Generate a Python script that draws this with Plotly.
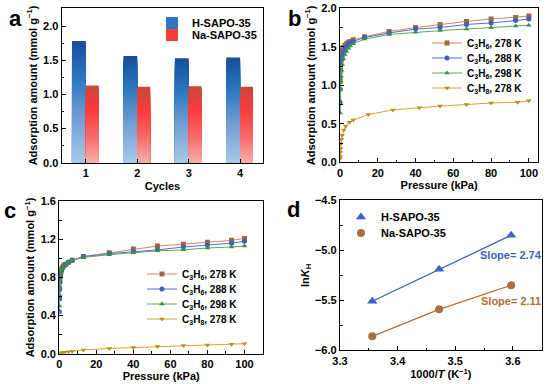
import plotly.graph_objects as go

# ---------------- data ----------------
cycles = [1, 2, 3, 4]
h_sapo_cycles = [1.78, 1.56, 1.53, 1.54]
na_sapo_cycles = [1.13, 1.11, 1.12, 1.11]

# panel b (H-SAPO-35 isotherms)
p_b = [0.05, 0.1, 0.2, 0.35, 0.5, 0.8, 1.2, 1.8, 2.6, 3.5, 4.5, 5.5, 7, 13, 26, 40, 53, 67, 80, 93, 100]
b_c3h6_278 = [1.05, 1.18, 1.28, 1.35, 1.39, 1.43, 1.46, 1.49, 1.52, 1.54, 1.56, 1.57, 1.59, 1.63, 1.70, 1.75, 1.79, 1.83, 1.86, 1.88, 1.90]
b_c3h6_288 = [0.77, 0.95, 1.10, 1.20, 1.27, 1.33, 1.38, 1.43, 1.47, 1.50, 1.53, 1.55, 1.57, 1.62, 1.68, 1.73, 1.75, 1.79, 1.81, 1.84, 1.86]
b_c3h6_298 = [0.64, 0.80, 0.95, 1.05, 1.12, 1.20, 1.27, 1.34, 1.40, 1.44, 1.48, 1.51, 1.54, 1.60, 1.66, 1.69, 1.71, 1.73, 1.75, 1.77, 1.78]
p_b_c3h8 = [0.05, 0.1, 0.2, 0.35, 0.5, 0.8, 1.2, 2.0, 3.0, 5.0, 7.0, 15, 28, 42, 53, 67, 80, 94, 100]
b_c3h8_278 = [0.05, 0.08, 0.13, 0.18, 0.24, 0.30, 0.35, 0.42, 0.47, 0.52, 0.55, 0.62, 0.68, 0.71, 0.73, 0.75, 0.77, 0.78, 0.80]

# panel c (Na-SAPO-35 isotherms)
p_c = [0.05, 0.1, 0.2, 0.35, 0.5, 0.8, 1.2, 1.8, 2.6, 3.5, 5, 7, 13, 27, 40, 53, 67, 80, 93, 100]
c_c3h6_278 = [0.58, 0.68, 0.76, 0.81, 0.84, 0.87, 0.89, 0.91, 0.93, 0.94, 0.96, 0.98, 1.02, 1.06, 1.10, 1.13, 1.15, 1.17, 1.19, 1.21]
c_c3h6_288 = [0.44, 0.58, 0.68, 0.75, 0.80, 0.84, 0.87, 0.90, 0.92, 0.94, 0.96, 0.98, 1.02, 1.05, 1.07, 1.09, 1.12, 1.14, 1.16, 1.18]
c_c3h6_298 = [0.50, 0.62, 0.71, 0.77, 0.81, 0.85, 0.88, 0.90, 0.92, 0.94, 0.96, 0.98, 1.01, 1.04, 1.06, 1.08, 1.09, 1.11, 1.12, 1.13]
p_c_c3h8 = [0.1, 0.5, 1.0, 2.0, 3.0, 5.0, 7.0, 13, 27, 40, 53, 67, 80, 93, 100]
c_c3h8_278 = [0.005, 0.008, 0.01, 0.013, 0.016, 0.02, 0.025, 0.04, 0.055, 0.065, 0.075, 0.085, 0.092, 0.10, 0.105]

# panel d (van't Hoff)
inv_t = [3.356, 3.472, 3.597]
lnk_h = [-5.51, -5.19, -4.85]
lnk_na = [-5.86, -5.59, -5.35]
slope_h = "Slope= 2.74"
slope_na = "Slope= 2.11"

FONT = "Liberation Sans, Arial, sans-serif"
BLACK = "#000000"
W, H = 550, 384

def lerp_hex(stops, t):
    for (t0, c0), (t1, c1) in zip(stops[:-1], stops[1:]):
        if t0 <= t <= t1:
            f = (t - t0) / (t1 - t0) if t1 > t0 else 0
            a = [int(c0[i:i + 2], 16) for i in (1, 3, 5)]
            b = [int(c1[i:i + 2], 16) for i in (1, 3, 5)]
            return "#%02x%02x%02x" % tuple(round(a[k] + (b[k] - a[k]) * f) for k in range(3))
    return stops[-1][1]

blue_stops = [(0.0, "#174f9c"), (0.3, "#2b78be"), (0.6, "#6e9bd4"), (1.0, "#a9cbe8")]
red_stops = [(0.0, "#c9463a"), (0.3, "#fb3c3c"), (0.65, "#f86a6a"), (1.0, "#f8b2ae")]

legends = {}

def leg(key, x_text_px, y_px, size=11):
    legends[key] = dict(x=(x_text_px - 40) / W, y=1 - y_px / H, xanchor="left", yanchor="middle",
                        bgcolor="rgba(0,0,0,0)",
                        font=dict(family=FONT, size=size, color=BLACK, weight="bold"),
                        itemwidth=30, borderwidth=0)
    return key

fig = go.Figure()

# ---- panel a: gradient bars built from overlapping bars (tallest first) ----
N = 40
for name, vals, stops, offset, width, lg_idx, lkey, ly in [
    ("H-SAPO-35", h_sapo_cycles, blue_stops, -0.27, 0.27, 12, "legend", 23),
    ("Na-SAPO-35", na_sapo_cycles, red_stops, 0.0, 0.25, 12, "legend2", 35),
]:
    leg(lkey, 192, ly)
    for i in range(N):
        frac = (N - i) / N  # fraction of bar height
        t = 1 - frac  # 0 top colour -> 1 bottom colour
        col = lerp_hex(stops, t)
        fig.add_trace(go.Bar(
            x=cycles, y=[v * frac for v in vals],
            offset=offset, width=width,
            marker=dict(color=col, line=dict(width=0)),
            name=name, legendgroup=name, showlegend=(i == lg_idx),
            legend=lkey, xaxis="x", yaxis="y", hoverinfo="skip",
        ))

# ---- panels b and c ----
series_style = [
    ("C<sub>3</sub>H<sub>6</sub>, 278 K", "#d9826b", "#9a6a45", "square"),
    ("C<sub>3</sub>H<sub>6</sub>, 288 K", "#4f6fd6", "#4060c0", "circle"),
    ("C<sub>3</sub>H<sub>6</sub>, 298 K", "#5aa85a", "#3e8e41", "triangle-up"),
    ("C<sub>3</sub>H<sub>8</sub>, 278 K", "#d4a72c", "#b8901a", "triangle-down"),
]
b_data = [(p_b, b_c3h6_278), (p_b, b_c3h6_288), (p_b, b_c3h6_298), (p_b_c3h8, b_c3h8_278)]
c_data = [(p_c, c_c3h6_278), (p_c, c_c3h6_288), (p_c, c_c3h6_298), (p_c_c3h8, c_c3h8_278)]
b_leg_y = [43, 58, 73, 88]
c_leg_y = [274, 289, 304, 319]

li = 3
for (xs, ys), (name, lc, mc, sym), ly in zip(b_data, series_style, b_leg_y):
    key = leg("legend%d" % li, 467, ly, 10); li += 1
    fig.add_trace(go.Scatter(
        x=xs, y=ys, mode="lines+markers", name=name,
        line=dict(color=lc, width=1),
        marker=dict(symbol=sym, size=5, color=mc),
        xaxis="x2", yaxis="y2", legend=key,
    ))
for (xs, ys), (name, lc, mc, sym), ly in zip(c_data, series_style, c_leg_y):
    key = leg("legend%d" % li, 182, ly, 10); li += 1
    fig.add_trace(go.Scatter(
        x=xs, y=ys, mode="lines+markers", name=name,
        line=dict(color=lc, width=1),
        marker=dict(symbol=sym, size=5, color=mc),
        xaxis="x3", yaxis="y3", legend=key,
    ))

# ---- panel d ----
fig.add_trace(go.Scatter(x=inv_t, y=lnk_h, mode="lines", line=dict(color="#3b63c4", width=1.3),
                         showlegend=False, xaxis="x4", yaxis="y4"))
fig.add_trace(go.Scatter(x=inv_t, y=lnk_na, mode="lines", line=dict(color="#b0703a", width=1.3),
                         showlegend=False, xaxis="x4", yaxis="y4"))
key = leg("legend%d" % li, 381, 217); li += 1
fig.add_trace(go.Scatter(x=inv_t, y=lnk_h, mode="markers", name="H-SAPO-35",
                         marker=dict(symbol="triangle-up", size=9, color="#3b63c4"),
                         xaxis="x4", yaxis="y4", legend=key))
key = leg("legend%d" % li, 381, 233); li += 1
fig.add_trace(go.Scatter(x=inv_t, y=lnk_na, mode="markers", name="Na-SAPO-35",
                         marker=dict(symbol="circle", size=8, color="#a8703f"),
                         xaxis="x4", yaxis="y4", legend=key))

tickfont = dict(family=FONT, size=11, color=BLACK, weight="bold")
titlefont = dict(family=FONT, size=11, color=BLACK, weight="bold")

def ax(domain, rng, dtick, minor_dtick, title, anchor, fmt=None, tickvals=None, standoff=None):
    d = dict(domain=domain, range=rng, anchor=anchor, automargin=False,
             showline=True, linecolor=BLACK, linewidth=1.3, mirror=True,
             ticks="inside", ticklen=4, tickwidth=1.2, tickcolor=BLACK,
             showgrid=False, zeroline=False, tickfont=tickfont,
             title=dict(text=title, font=titlefont))
    if standoff is not None:
        d["title"]["standoff"] = standoff
    if tickvals is not None:
        d["tickmode"] = "array"
        d["tickvals"] = tickvals
    else:
        d["dtick"] = dtick
        d["tick0"] = rng[0] if fmt else 0
    if minor_dtick:
        d["minor"] = dict(dtick=minor_dtick, ticks="inside", ticklen=2.5, tickwidth=1, tickcolor=BLACK)
    if fmt:
        d["tickformat"] = fmt
    return d

ytitle = "Adsorption amount (mmol g<sup>−1</sup>)"
letter_font = dict(family=FONT, size=22, color=BLACK, weight="bold")

fig.update_layout(
    width=W, height=H,
    margin=dict(l=0, r=0, t=0, b=0, autoexpand=False),
    paper_bgcolor="white", plot_bgcolor="white",
    barmode="overlay",
    font=dict(family=FONT, color=BLACK),
    xaxis=ax([0.1122, 0.4787], [0.53, 4.45], None, None, "Cycles", "y", tickvals=cycles, standoff=4),
    yaxis=ax([0.5763, 0.9784], [0, 2.26], 0.5, 0.25, ytitle, "x", fmt=".1f", standoff=3),
    xaxis2=ax([0.6182, 0.9787], [0, 105], 20, 10, "Pressure (kPa)", "y2", standoff=2),
    yaxis2=ax([0.5773, 0.9784], [0, 2.0], 0.5, 0.25, ytitle, "x2", fmt=".1f", standoff=3),
    xaxis3=ax([0.1078, 0.4782], [0, 110], 20, 10, "Pressure (kPa)", "y3", standoff=2),
    yaxis3=ax([0.0789, 0.4758], [0, 1.6], 0.4, 0.2, ytitle, "x3", fmt=".1f", standoff=3),
    xaxis4=ax([0.6182, 0.9849], [3.3, 3.65], 0.1, 0.05, "1000/<i>T</i> (K<sup>−1</sup>)", "y4", fmt=".1f", standoff=2),
    yaxis4=ax([0.0878, 0.4784], [-6.0, -4.5], 0.5, 0.25, "ln<i>K</i><sub>H</sub>", "x4", fmt=".1f", standoff=3),
    annotations=[
        dict(text="a", x=15 / W, y=1 - 18 / H, xref="paper", yref="paper", showarrow=False,
             xanchor="center", yanchor="middle", font=letter_font),
        dict(text="b", x=294 / W, y=1 - 18 / H, xref="paper", yref="paper", showarrow=False,
             xanchor="center", yanchor="middle", font=letter_font),
        dict(text="c", x=10 / W, y=1 - 210 / H, xref="paper", yref="paper", showarrow=False,
             xanchor="center", yanchor="middle", font=letter_font),
        dict(text="d", x=293 / W, y=1 - 209 / H, xref="paper", yref="paper", showarrow=False,
             xanchor="center", yanchor="middle", font=letter_font),
        dict(text=slope_h, x=3.597, y=-5.05, xref="x4", yref="y4", showarrow=False,
             xanchor="center", yanchor="middle",
             font=dict(family=FONT, size=11, color="#3b63c4", weight="bold")),
        dict(text=slope_na, x=3.597, y=-5.51, xref="x4", yref="y4", showarrow=False,
             xanchor="center", yanchor="middle",
             font=dict(family=FONT, size=11, color="#b0703a", weight="bold")),
    ],
)
fig.update_layout(**legends)

fig.write_html("out.html", config={"displayModeBar": False},
               post_script="document.body.style.margin='0';document.body.style.padding='0';")
